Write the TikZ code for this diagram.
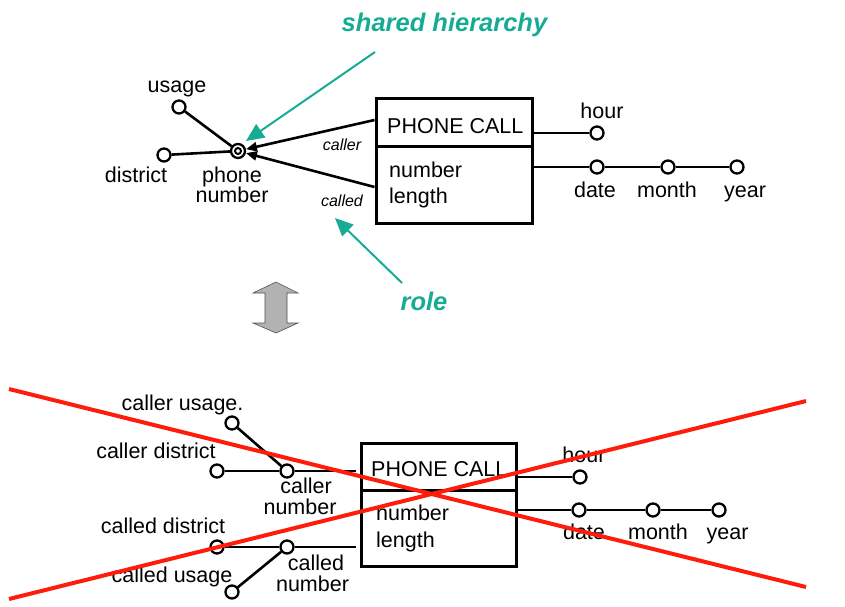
\documentclass[tikz,border=0pt]{standalone}
\usepackage{fontspec}
\setmainfont{Liberation Sans}
\usetikzlibrary{arrows.meta}
\definecolor{tealc}{RGB}{22,172,148}
\definecolor{redx}{RGB}{255,28,10}
\definecolor{grayf}{RGB}{178,178,178}
\definecolor{grayd}{RGB}{80,80,80}
\begin{document}
\begin{tikzpicture}[x=1pt,y=-1pt,
  lbl/.style={font=\fontsize{21.5}{21}\selectfont, inner sep=0pt, anchor=base},
  rolelbl/.style={font=\fontsize{16}{16}\selectfont\itshape, inner sep=0pt, anchor=base},
  note/.style={font=\fontsize{25.5}{26}\selectfont\bfseries\itshape, text=tealc, inner sep=0pt, anchor=base},
  attr/.style={circle, draw, line width=2.3pt, fill=white, minimum size=13pt, inner sep=0pt},
  entity/.style={draw, line width=3pt, inner sep=0pt},
  conn/.style={line width=2.6pt},
  arr/.style={line width=2.6pt, -{Triangle[length=11pt,width=9pt]}},
  tealarr/.style={tealc, line width=2pt, -{Triangle[length=18pt,width=16pt]}},
  cross/.style={redx, line width=4pt}]
\useasboundingbox (0,0) rectangle (845,606);

% ---------- top diagram ----------
\node[entity, minimum width=156pt, minimum height=125pt] (pc) at (454,160.5) {};
\coordinate (div1) at (0,146);
\draw[line width=3pt] (pc.west |- div1) -- (pc.east |- div1);
\node[lbl, anchor=base west] (pctitle) at (387,133) {PHONE CALL};
\node[lbl, anchor=base west] (pcnum) at (389,177) {number};
\node[lbl, anchor=base west] (pclen) at (389,203) {length};

\node[attr] (hour) at (597,133) {};
\node[attr] (date) at (597,167) {};
\node[attr] (month) at (668,167) {};
\node[attr] (year) at (737,167) {};
\draw[conn] (pc.east |- hour) -- (hour);
\draw[conn] (pc.east |- date) -- (date) -- (month) -- (year);
\node[lbl] (lhour) at (602,118) {hour};
\node[lbl] (ldate) at (595,197) {date};
\node[lbl] (lmonth) at (667,197) {month};
\node[lbl] (lyear) at (745,197) {year};

\node[attr, minimum size=14pt] (pn) at (238,151) {};
\draw[line width=2pt] (pn.center) circle (3pt);
\node[attr] (usage) at (179,107) {};
\node[attr] (district) at (164,155) {};
\draw[conn] (usage) -- (pn);
\draw[conn] (district) -- (pn);
\node[lbl] (lusage) at (177,92) {usage};
\node[lbl] (ldistrict) at (136,182) {district};
\node[lbl] (lphone) at (232,182) {phone};
\node[lbl] (lnumber) at (232,202) {number};

\coordinate (ca) at (0,120);
\coordinate (cd) at (0,187);
\draw[arr] (pc.west |- ca) -- (pn);
\draw[arr] (pc.west |- cd) -- (pn);
\node[rolelbl] (lcaller) at (342,150) {caller};
\node[rolelbl] (lcalled) at (342,206) {called};

\node[note] (shared) at (444.5,31.5) {shared hierarchy};
\node[note] (role) at (424,310) {role};
\coordinate (shs) at (375,52);
\coordinate (sht) at (246,141);
\coordinate (ros) at (402,283);
\coordinate (rot) at (335,218);
\draw[tealarr] (shs) -- (sht);
\draw[tealarr] (ros) -- (rot);

% ---------- gray double arrow ----------
\draw[fill=grayf, draw=grayd, line width=0.6pt]
  (276,282) -- (298,293) -- (287,293) -- (287,323) -- (298,323) -- (276,333)
  -- (253,323) -- (265,323) -- (265,293) -- (253,293) -- cycle;

% ---------- bottom diagram ----------
\node[entity, minimum width=155pt, minimum height=123pt] (pc2) at (438.5,504.5) {};
\coordinate (div2) at (0,490);
\draw[line width=3pt] (pc2.west |- div2) -- (pc2.east |- div2);
\node[lbl, anchor=base west] (pc2title) at (371,476) {PHONE CALL};
\node[lbl, anchor=base west] (pc2num) at (376,520) {number};
\node[lbl, anchor=base west] (pc2len) at (376,547) {length};

\node[attr] (hour2) at (580,477) {};
\node[attr] (date2) at (579,510) {};
\node[attr] (month2) at (653,510) {};
\node[attr] (year2) at (719,510) {};
\draw[conn] (pc2.east |- hour2) -- (hour2);
\draw[conn] (pc2.east |- date2) -- (date2) -- (month2) -- (year2);
\node[lbl] (lhour2) at (584,462) {hour};
\node[lbl] (ldate2) at (584,539) {date};
\node[lbl] (lmonth2) at (658,539) {month};
\node[lbl] (lyear2) at (727.5,539) {year};

\node[attr] (cu) at (232,423) {};
\node[attr] (cdist) at (217,471) {};
\node[attr] (cn) at (287,471) {};
\node[attr] (ddist) at (217,547) {};
\node[attr] (dn) at (287,547) {};
\node[attr] (du) at (232,592) {};
\draw[conn] (cu) -- (cn);
\draw[conn] (cdist) -- (cn);
\draw[conn] (cn) -- ([xshift=-4pt]pc2.west |- cn);
\draw[conn] (du) -- (dn);
\draw[conn] (ddist) -- (dn);
\draw[conn] (dn) -- ([xshift=-4pt]pc2.west |- dn);

\node[lbl] (lcu) at (182.5,410) {caller usage.};
\node[lbl] (lcdist) at (156,458) {caller district};
\node[lbl] (lcn1) at (306,493) {caller};
\node[lbl] (lcn2) at (300,514) {number};
\node[lbl] (lddist) at (163,533) {called district};
\node[lbl] (ldu) at (172,582) {called usage};
\node[lbl] (ldn1) at (316,570) {called};
\node[lbl] (ldn2) at (312.5,591) {number};

% ---------- red cross ----------
\coordinate (r1a) at (9,389);
\coordinate (r1b) at (806,587);
\coordinate (r2a) at (9,599);
\coordinate (r2b) at (806,401);
\draw[cross] (r1a) -- (r1b);
\draw[cross] (r2a) -- (r2b);
\end{tikzpicture}
\end{document}
